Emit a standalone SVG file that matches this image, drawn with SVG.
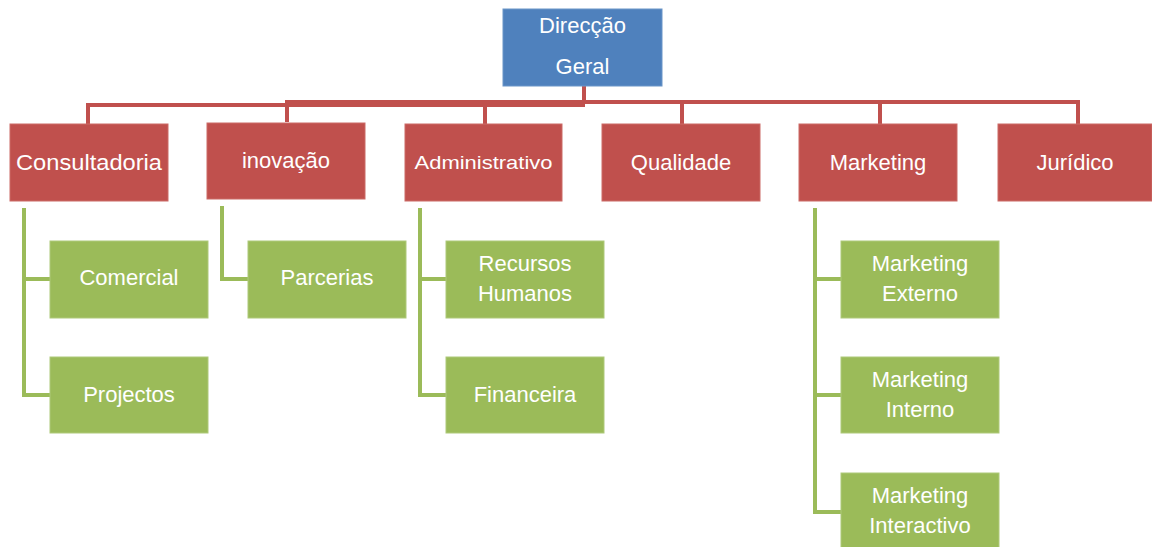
<svg xmlns="http://www.w3.org/2000/svg" width="1152" height="547" viewBox="0 0 1152 547">
<style>
.blue{fill:#4F81BD;stroke:#6A95C8;stroke-width:1}
.red{fill:#C0504D;stroke:#CB6A67;stroke-width:1}
.green{fill:#9BBB59;stroke:#AEC97A;stroke-width:1}
.t{font-family:"Liberation Sans",Arial,sans-serif;font-size:22px;fill:#FFFFFF;text-anchor:middle}
.rl{fill:none;stroke:#C0504D;stroke-width:4}
.gl{fill:none;stroke:#9BBB59;stroke-width:4}
</style>
<rect width="1152" height="547" fill="#FFFFFF"/>
<g id="connectors">
<path class="rl" d="M584 86 V103"/>
<path class="rl" d="M88 124 V105 H585"/>
<path class="rl" d="M287 122 V102 H1078 V124"/>
<path class="rl" d="M485 102 V124 M682 102 V124 M880 102 V124"/>
<path class="gl" d="M24 208 V395 H50 M24 279 H50"/>
<path class="gl" d="M222 206 V279 H248"/>
<path class="gl" d="M420 208 V395 H446 M420 279 H446"/>
<path class="gl" d="M815 208 V512 H841 M815 279 H841 M815 395 H841"/>
</g>
<g id="direccao-geral"><rect class="blue" x="503" y="9" width="159" height="77"/><text class="t" x="582.5" y="33">Direcção</text><text class="t" x="582.5" y="74">Geral</text></g>
<g id="consultadoria"><rect class="red" x="10" y="124" width="158" height="77"/><text class="t" x="89" y="170" textLength="146" lengthAdjust="spacingAndGlyphs">Consultadoria</text></g>
<g id="inovacao"><rect class="red" x="207" y="123" width="158" height="76"/><text class="t" x="286" y="168">inovação</text></g>
<g id="administrativo"><rect class="red" x="405" y="124" width="157" height="77"/><text class="t" x="483.5" y="169" style="font-size:19px" textLength="138" lengthAdjust="spacingAndGlyphs">Administrativo</text></g>
<g id="qualidade"><rect class="red" x="602" y="124" width="158" height="77"/><text class="t" x="681" y="170">Qualidade</text></g>
<g id="marketing"><rect class="red" x="799" y="124" width="158" height="77"/><text class="t" x="878" y="170">Marketing</text></g>
<g id="juridico"><rect class="red" x="998" y="124" width="154" height="77"/><text class="t" x="1075" y="170">Jurídico</text></g>
<g id="comercial"><rect class="green" x="50" y="241" width="158" height="77"/><text class="t" x="129" y="285">Comercial</text></g>
<g id="projectos"><rect class="green" x="50" y="357" width="158" height="76"/><text class="t" x="129" y="402">Projectos</text></g>
<g id="parcerias"><rect class="green" x="248" y="241" width="158" height="77"/><text class="t" x="327" y="285">Parcerias</text></g>
<g id="recursos-humanos"><rect class="green" x="446" y="241" width="158" height="77"/><text class="t" x="525" y="271">Recursos</text><text class="t" x="525" y="301">Humanos</text></g>
<g id="financeira"><rect class="green" x="446" y="357" width="158" height="76"/><text class="t" x="525" y="402">Financeira</text></g>
<g id="marketing-externo"><rect class="green" x="841" y="241" width="158" height="77"/><text class="t" x="920" y="271">Marketing</text><text class="t" x="920" y="301">Externo</text></g>
<g id="marketing-interno"><rect class="green" x="841" y="357" width="158" height="76"/><text class="t" x="920" y="387">Marketing</text><text class="t" x="920" y="417">Interno</text></g>
<g id="marketing-interactivo"><rect class="green" x="841" y="473" width="158" height="77"/><text class="t" x="920" y="503">Marketing</text><text class="t" x="920" y="533">Interactivo</text></g>
</svg>
